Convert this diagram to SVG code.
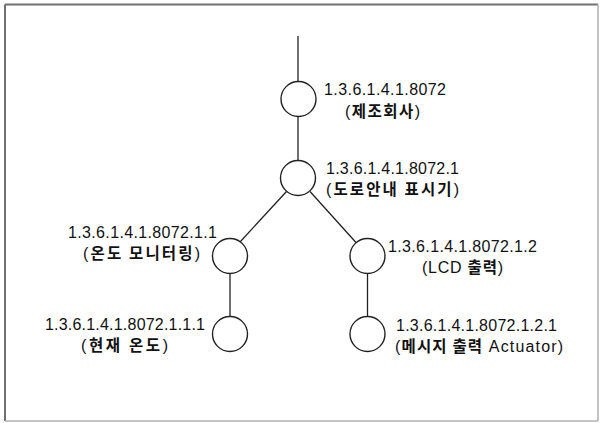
<svg xmlns="http://www.w3.org/2000/svg" width="602" height="423" viewBox="0 0 602 423">
<style>
.node{fill:#fff;stroke:#222;stroke-width:1.4}
.edge{stroke:#222;stroke-width:1.3;fill:none}
.oid{font-family:"Liberation Sans","Noto Sans CJK KR",sans-serif;font-size:16px;fill:#111}
.name{font-family:"Liberation Sans","Noto Sans CJK KR",sans-serif;font-size:16px;fill:#111}
.ko{font-family:"Noto Sans CJK KR",sans-serif;font-weight:bold;font-size:15.5px}
</style>
<rect x="0" y="0" width="602" height="423" fill="#fff"/>
<g id="frame">
<line x1="5" y1="4.5" x2="598" y2="4.5" stroke="#707070" stroke-width="2"/>
<line x1="5" y1="4.5" x2="5" y2="421" stroke="#707070" stroke-width="2"/>
<line x1="598" y1="4.5" x2="598" y2="421" stroke="#b0b0b0" stroke-width="1.5"/>
<line x1="5" y1="421" x2="598" y2="421" stroke="#b0b0b0" stroke-width="1.5"/>
</g>
<g id="connectors">
<line class="edge" x1="298" y1="36" x2="298" y2="81.5"/>
<line class="edge" x1="298" y1="116.5" x2="298" y2="160"/>
<line class="edge" x1="286.5" y1="191.5" x2="240" y2="242"/>
<line class="edge" x1="310" y1="191.5" x2="356" y2="242.5"/>
<line class="edge" x1="230" y1="273.5" x2="230" y2="316.5"/>
<line class="edge" x1="367.5" y1="273.5" x2="367.5" y2="316.5"/>
</g>
<g id="n1">
<circle class="node" cx="298.5" cy="99" r="17.5"/>
<text class="oid" x="324" y="95" textLength="122">1.3.6.1.4.1.8072</text>
<text class="name" x="345" y="117" textLength="75">(<tspan class="ko">제조회사</tspan>)</text>
</g>
<g id="n2">
<circle class="node" cx="298" cy="178" r="17.5"/>
<text class="oid" x="326" y="174" textLength="133">1.3.6.1.4.1.8072.1</text>
<text class="name" x="326" y="195" textLength="133">(<tspan class="ko">도로안내 표시기</tspan>)</text>
</g>
<g id="n3">
<circle class="node" cx="230" cy="256" r="17.5"/>
<text class="oid" x="68" y="238" textLength="149">1.3.6.1.4.1.8072.1.1</text>
<text class="name" x="83" y="259" textLength="117">(<tspan class="ko">온도 모니터링</tspan>)</text>
</g>
<g id="n4">
<circle class="node" cx="367.5" cy="256" r="17.5"/>
<text class="oid" x="388" y="252" textLength="149">1.3.6.1.4.1.8072.1.2</text>
<text class="name" x="422" y="273" textLength="81">(LCD <tspan class="ko">출력</tspan>)</text>
</g>
<g id="n5">
<circle class="node" cx="230" cy="334" r="17.5"/>
<text class="oid" x="45" y="330" textLength="160">1.3.6.1.4.1.8072.1.1.1</text>
<text class="name" x="81" y="351" textLength="87">(<tspan class="ko">현재 온도</tspan>)</text>
</g>
<g id="n6">
<circle class="node" cx="367.5" cy="334" r="17.5"/>
<text class="oid" x="396" y="331" textLength="161">1.3.6.1.4.1.8072.1.2.1</text>
<text class="name" x="395" y="352" textLength="168">(<tspan class="ko">메시지 출력</tspan> Actuator)</text>
</g>
</svg>
